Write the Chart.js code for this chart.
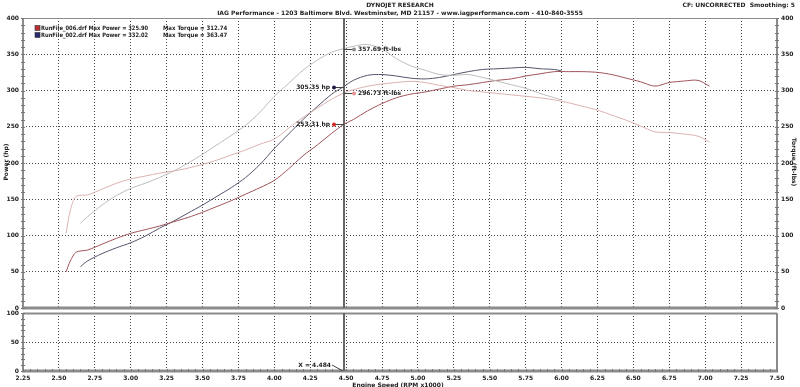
<!DOCTYPE html>
<html>
<head>
<meta charset="utf-8">
<script src="https://cdn.jsdelivr.net/npm/chart.js@4.4.0/dist/chart.umd.min.js"></script>
<style>
  body { margin: 0; background: #fff; width: 800px; height: 387px; overflow: hidden; position: relative; }
  canvas { position: absolute; left: 0; }
</style>
</head>
<body>
<canvas id="topChart" width="800" height="316" style="top:0"></canvas>
<canvas id="bottomChart" width="800" height="84" style="top:303px"></canvas>
<script>
// RUN 006 (starts 2.55k, ends 7.03k)
const rpm006 = [2.55, 2.58, 2.62, 2.70, 2.80, 2.90, 3.00, 3.10, 3.20, 3.30, 3.40, 3.50, 3.60, 3.70, 3.80, 3.90, 4.00, 4.10, 4.20, 4.30, 4.40, 4.484, 4.55, 4.65, 4.75, 4.85, 4.95, 5.05, 5.15, 5.25, 5.35, 5.45, 5.55, 5.65, 5.75, 5.85, 5.95, 6.05, 6.15, 6.25, 6.35, 6.45, 6.55, 6.65, 6.75, 6.85, 6.95, 7.03];
const hp006 = [50, 65, 77, 80, 88, 96, 103, 108, 113, 119, 125, 132, 140, 148, 157, 166, 176, 192, 210, 225, 241, 253.3, 260, 272, 282, 290, 295, 298, 302, 306, 308, 311, 314, 316, 320, 323, 326, 326, 326, 325, 322, 317, 312, 306, 311, 313, 314, 306];
const tq006 = [103, 135, 154, 156, 164, 172, 178, 182, 186, 189, 193, 198, 204, 211, 218, 226, 233, 248, 263, 276, 288, 296.7, 301, 306, 309, 311, 312.7, 311, 307, 304, 300, 298, 296, 294, 292, 290, 287, 283, 278, 273, 266, 259, 251, 243, 242, 240, 237, 229];

// RUN 002 (starts 2.65k, ends 6.0k)
const rpm002 = [2.65, 2.70, 2.80, 2.90, 3.00, 3.10, 3.20, 3.30, 3.40, 3.50, 3.60, 3.70, 3.80, 3.90, 4.00, 4.10, 4.20, 4.30, 4.40, 4.484, 4.55, 4.65, 4.75, 4.85, 4.95, 5.05, 5.15, 5.25, 5.35, 5.45, 5.55, 5.65, 5.75, 5.85, 5.95, 6.00];
const hp002 = [57, 65, 75, 83, 90, 99, 110, 120, 131, 142, 154, 166, 180, 198, 220, 240, 260, 278, 295, 305.4, 314, 321, 322, 320, 317, 316, 318, 322, 326, 329, 330, 331, 332, 330, 329, 327];
const tq002 = [117, 126, 142, 155, 165, 172, 180, 189, 200, 212, 225, 238, 252, 270, 292, 310, 328, 342, 353, 357.7, 361, 363.5, 357, 344, 334, 328, 322, 321, 322, 318, 313, 308, 303, 296, 290, 287];

// cursor readout
const cursorRpm = 4.484;
const markerText = ['357.69 ft-lbs', '305.35 hp', '296.73 ft-lbs', '253.31 hp'];
const markerValue = [357.69, 305.35, 296.73, 253.31];
const markerSide = [1, -1, 1, -1];
const markerColor = ['#8a8a8a', '#1c1c4a', '#e89090', '#d02828'];

const legendNames = ['RunFile_006.drf', 'RunFile_002.drf'];
const legendPower = ['325.90', '332.02'];
const legendTorque = ['312.74', '363.47'];
const legendColor = ['#b83030', '#2a2a6e'];

const FONT = 'bold 6px "DejaVu Sans"';
const GRID = '#454545';
const FRAME = '#8c8c8c';

function pts(xs, ys) { return xs.map((x, i) => ({ x: x, y: ys[i] })); }

function line(label, xs, ys, color, axis) {
  return { label: label, data: pts(xs, ys), yAxisID: axis, borderColor: color, borderWidth: 1,
           pointRadius: 0, tension: 0.3, fill: false };
}

function xScale(showLabels) {
  return {
    type: 'linear', min: 2.25, max: 7.5,
    ticks: { display: showLabels, stepSize: 0.25, autoSkip: false, padding: 4, color: '#222',
             font: { family: 'DejaVu Sans', size: 6, weight: 'bold' },
             callback: v => v.toFixed(2) },
    grid: { color: GRID, lineWidth: 1, drawTicks: false },
    border: { display: false, dash: [1, 2] },
    afterFit: s => { s.height = showLabels ? 16 : 0; }
  };
}

function yScale(pos, max, labels, grid) {
  return {
    type: 'linear', position: pos, min: 0, max: max,
    ticks: { display: labels, stepSize: 50, padding: 4, color: '#222',
             font: { family: 'DejaVu Sans', size: 6, weight: 'bold' } },
    grid: { display: grid, color: GRID, lineWidth: 1, drawTicks: false },
    border: { display: false, dash: [1, 2] },
    afterFit: s => { s.width = 23; }
  };
}

function axisTicks(ctx, scale, step, x0, a) {
  ctx.strokeStyle = '#777';
  ctx.lineWidth = 1;
  for (let v = scale.min; v <= scale.max + 1e-6; v += step) {
    const p = Math.round(scale.getPixelForValue(v)) + 0.5;
    ctx.beginPath();
    if (scale.axis === 'y') { ctx.moveTo(x0 - 2, p); ctx.lineTo(x0 + 2, p); }
    else { ctx.moveTo(p, a.bottom - 2); ctx.lineTo(p, a.bottom + 1); }
    ctx.stroke();
  }
}

function drawFrame(ctx, a, bottomWidth, topThin) {
  ctx.strokeStyle = FRAME;
  ctx.lineWidth = 2;
  ctx.beginPath();
  ctx.moveTo(a.left, a.top); ctx.lineTo(a.left, a.bottom);
  ctx.moveTo(a.right, a.top); ctx.lineTo(a.right, a.bottom);
  ctx.stroke();
  ctx.lineWidth = bottomWidth;
  ctx.beginPath(); ctx.moveTo(a.left - 1, a.bottom); ctx.lineTo(a.right + 1, a.bottom); ctx.stroke();
  ctx.lineWidth = topThin ? 1 : 2;
  ctx.beginPath(); ctx.moveTo(a.left, a.top + 0.5); ctx.lineTo(a.right, a.top + 0.5); ctx.stroke();
}

// narrow text, the legend font is tighter than the header font
function squeezed(ctx, text, x, y, k) {
  ctx.save();
  ctx.translate(x, y);
  ctx.scale(k, 1);
  ctx.fillText(text, 0, 0);
  ctx.restore();
}

const topPlugin = {
  id: 'topDecor',
  afterDraw(chart) {
    const { ctx, chartArea: a, scales } = chart;
    ctx.save();
    drawFrame(ctx, a, 3, true);
    axisTicks(ctx, scales.y, 10, a.left, a);
    axisTicks(ctx, scales.y2, 10, a.right, a);

    // cursor line
    const cx = Math.round(scales.x.getPixelForValue(cursorRpm));
    ctx.strokeStyle = '#666';
    ctx.lineWidth = 2;
    ctx.beginPath(); ctx.moveTo(cx, a.top); ctx.lineTo(cx, a.bottom); ctx.stroke();

    ctx.font = FONT;
    ctx.fillStyle = '#222';
    ctx.textBaseline = 'middle';

    // cursor readouts
    markerText.forEach((t, i) => {
      const axis = markerSide[i] > 0 ? scales.y2 : scales.y;
      const py = Math.round(axis.getPixelForValue(markerValue[i])) + 0.5;
      const dx = cx + markerSide[i] * 10;
      ctx.strokeStyle = '#444';
      ctx.lineWidth = 1;
      ctx.beginPath(); ctx.moveTo(cx, py); ctx.lineTo(dx, py); ctx.stroke();
      ctx.fillStyle = markerColor[i];
      ctx.beginPath(); ctx.arc(dx, py, 2, 0, Math.PI * 2); ctx.fill();
      ctx.fillStyle = '#222';
      ctx.textAlign = markerSide[i] > 0 ? 'left' : 'right';
      ctx.fillText(t, dx + markerSide[i] * 4, py);
    });

    // legend
    ctx.textAlign = 'left';
    legendNames.forEach((n, i) => {
      const ly = 28 + i * 7;
      ctx.fillStyle = legendColor[i];
      ctx.fillRect(35, ly - 2.5, 5, 5);
      ctx.strokeStyle = '#333';
      ctx.lineWidth = 0.6;
      ctx.strokeRect(35, ly - 2.5, 5, 5);
      ctx.fillStyle = '#222';
      squeezed(ctx, n + ' Max Power = ' + legendPower[i], 41, ly, 0.86);
      squeezed(ctx, 'Max Torque = ' + legendTorque[i], 163, ly, 0.9);
    });

    // headers
    ctx.textAlign = 'center';
    ctx.fillText('DYNOJET RESEARCH', 400, 5);
    ctx.fillText('IAG Performance - 1203 Baltimore Blvd. Westminster, MD 21157 - www.iagperformance.com - 410-840-3555', 400, 13);
    ctx.textAlign = 'right';
    ctx.fillText('CF: UNCORRECTED  Smoothing: 5', 795, 5);

    // axis titles
    ctx.textAlign = 'center';
    ctx.save();
    ctx.translate(6, 162); ctx.rotate(-Math.PI / 2);
    ctx.fillText('Power (hp)', 0, 0);
    ctx.restore();
    ctx.save();
    ctx.translate(794, 162); ctx.rotate(Math.PI / 2);
    ctx.fillText('Torque (ft-lbs)', 0, 0);
    ctx.restore();
    ctx.restore();
  }
};

const bottomPlugin = {
  id: 'bottomDecor',
  afterDraw(chart) {
    const { ctx, chartArea: a, scales } = chart;
    ctx.save();
    drawFrame(ctx, a, 3, false);
    axisTicks(ctx, scales.y, 10, a.left, a);
    axisTicks(ctx, scales.x, 0.05, 0, a);

    const cx = Math.round(scales.x.getPixelForValue(cursorRpm));
    ctx.strokeStyle = '#666';
    ctx.lineWidth = 2;
    ctx.beginPath(); ctx.moveTo(cx, a.top); ctx.lineTo(cx, a.bottom); ctx.stroke();

    ctx.font = FONT;
    ctx.fillStyle = '#222';
    ctx.textBaseline = 'middle';
    ctx.textAlign = 'right';
    ctx.fillText('X = ' + cursorRpm.toFixed(3), cx - 13, a.bottom - 6);
    ctx.strokeStyle = '#444';
    ctx.lineWidth = 1;
    ctx.beginPath(); ctx.moveTo(cx - 12, a.bottom - 6); ctx.lineTo(cx - 1, a.bottom); ctx.stroke();

    ctx.textAlign = 'center';
    ctx.fillText('Engine Speed (RPM x1000)', 398, a.bottom + 14);
    ctx.restore();
  }
};

new Chart(document.getElementById('topChart'), {
  type: 'line',
  data: {
    datasets: [
      line('006 Torque', rpm006, tq006, '#dcb0b0', 'y2'),
      line('002 Torque', rpm002, tq002, '#bcbcbc', 'y2'),
      line('006 Power', rpm006, hp006, '#a05458', 'y'),
      line('002 Power', rpm002, hp002, '#54546c', 'y')
    ]
  },
  options: {
    responsive: false, animation: false, devicePixelRatio: 1,
    layout: { padding: { top: 18, bottom: 8, left: 0, right: 0 } },
    plugins: { legend: { display: false }, tooltip: { enabled: false } },
    scales: {
      x: xScale(false),
      y: yScale('left', 400, true, true),
      y2: yScale('right', 400, true, false)
    }
  },
  plugins: [topPlugin]
});

new Chart(document.getElementById('bottomChart'), {
  type: 'line',
  data: { datasets: [] },
  options: {
    responsive: false, animation: false, devicePixelRatio: 1,
    layout: { padding: { top: 10, bottom: 0, left: 0, right: 0 } },
    plugins: { legend: { display: false }, tooltip: { enabled: false } },
    scales: {
      x: xScale(true),
      y: yScale('left', 100, true, true),
      y2: yScale('right', 100, false, false)
    }
  },
  plugins: [bottomPlugin]
});
</script>
</body>
</html>
